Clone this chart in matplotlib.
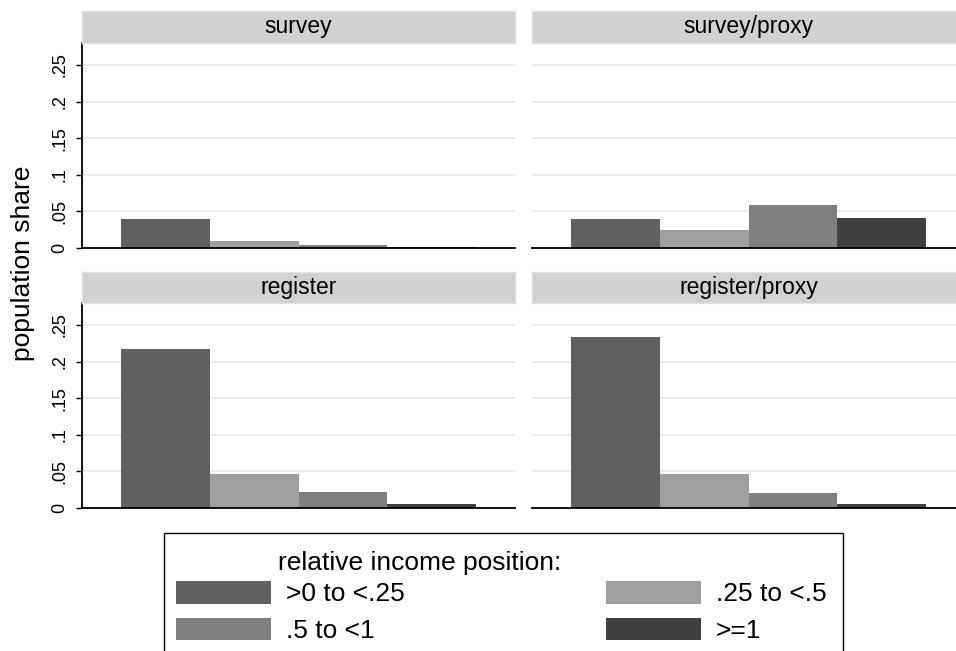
import matplotlib
matplotlib.use("Agg")
import matplotlib.pyplot as plt
from matplotlib.patches import Rectangle
import numpy as np

plt.rcParams['font.family'] = ['Liberation Sans', 'DejaVu Sans']

panels = ["survey", "survey/proxy", "register", "register/proxy"]
groups = [">0 to <.25", ".25 to <.5", ".5 to <1", ">=1"]
colors = ["#606060", "#a0a0a0", "#808080", "#404040"]

survey = [0.039, 0.009, 0.004, 0.0012]
survey_proxy = [0.039, 0.0245, 0.0587, 0.041]
register = [0.2166, 0.0463, 0.0215, 0.005]
register_proxy = [0.234, 0.0471, 0.0206, 0.006]
values = [survey, survey_proxy, register, register_proxy]

yticks = [0, 0.05, 0.1, 0.15, 0.2, 0.25]
ytick_labels = ["0", ".05", ".1", ".15", ".2", ".25"]

W, H = 956, 651
fig = plt.figure(figsize=(W / 100, H / 100), dpi=100)

# panel boxes in pixels: (left, top of strip, top of plot, bottom of plot)
lefts = [82, 532]
tops = [(11, 43, 248), (272, 303, 508)]
pw = 433

bars = None
for i, name in enumerate(panels):
    r, c = divmod(i, 2)
    x0 = lefts[c]
    st, pt, pb = tops[r]
    ax = fig.add_axes([x0 / W, 1 - pb / H, pw / W, (pb - pt) / H])
    sax = fig.add_axes([x0 / W, 1 - pt / H, pw / W, (pt - st) / H])
    sax.set_xticks([])
    sax.set_yticks([])
    sax.set_facecolor("#d1d1d1")
    for s in sax.spines.values():
        s.set_color("#dbe4e8")
        s.set_linewidth(1)
    sax.text(0.5, 0.5, name, ha="center", va="center", fontsize=16.5,
             transform=sax.transAxes)

    x = np.arange(4)
    bars = ax.bar(x, values[i], width=1.0, color=colors, edgecolor="none", zorder=3)
    ax.set_xlim(-0.945, 3.945)
    ax.set_ylim(0, 0.28)
    ax.set_yticks(yticks)
    ax.yaxis.grid(True, color="#eaeaea", linewidth=1.3, zorder=0)
    ax.set_xticks([])
    for s in ["top", "right"]:
        ax.spines[s].set_visible(False)
    ax.spines["bottom"].set_linewidth(1.3)
    ax.spines["bottom"].set_zorder(4)
    if c == 0:
        ax.spines["left"].set_linewidth(1.3)
        ax.set_yticklabels(ytick_labels, rotation=90, va="center", fontsize=13)
        ax.tick_params(axis="y", length=4, width=1, pad=6)
    else:
        ax.spines["left"].set_visible(False)
        ax.tick_params(axis="y", length=0, labelleft=False)

fig.text(23 / W, 1 - 263 / H, "population share", rotation=90, ha="center",
         va="center", fontsize=19)

# legend
fig.patches.append(Rectangle((164 / W, 1 - 700 / H), (843 - 164) / W, (700 - 533) / H,
                             transform=fig.transFigure, facecolor="white",
                             edgecolor="black", linewidth=1))
fig.text(278 / W, 1 - 563 / H, "relative income position:", ha="left",
         va="center", fontsize=19)
order = [0, 2, 1, 3]
handles = [bars[k] for k in order]
labels = [groups[k] for k in order]
fig.legend(handles, labels, ncol=2, loc="upper left",
           bbox_to_anchor=(176 / W, 1 - 581 / H), frameon=False, fontsize=19,
           handlelength=3.6, handleheight=0.95, handletextpad=0.55,
           columnspacing=7.65, labelspacing=0.42, borderpad=0, borderaxespad=0)

fig.savefig("out.png", dpi=100)
